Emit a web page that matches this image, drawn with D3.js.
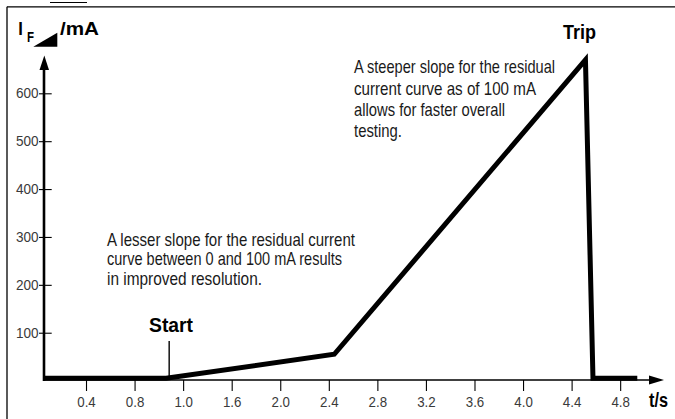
<!DOCTYPE html>
<html>
<head>
<meta charset="utf-8">
<script src="https://cdn.jsdelivr.net/npm/d3@7"></script>
<style>
  html, body { margin: 0; padding: 0; background: #fff; }
  svg { display: block; }
  text { font-family: "Liberation Sans Narrow", "Liberation Sans", Arial, sans-serif; }
</style>
</head>
<body>
<svg id="chart" width="675" height="419"></svg>
<script>
// ---------- data ----------
const xTickValues = [0.4, 0.8, 1.2, 1.6, 2.0, 2.4, 2.8, 3.2, 3.6, 4.0, 4.4, 4.8];
const xTickLabels = ["0.4", "0.8", "1.0", "1.6", "2.0", "2.4", "2.8", "3.2", "3.6", "4.0", "4.4", "4.8"];
const yTickValues = [100, 200, 300, 400, 500, 600];
const curveTime = [0.048, 1.06, 2.445, 4.514, 4.576, 4.941];   // t / s
const curveCurrent = [5, 5, 55, 670, 5, 5];                    // I_F / mA
const startTime = 1.085;
const noteLesser = ["A lesser slope for the residual current",
                    "curve between 0 and 100 mA results",
                    "in improved resolution."];
const noteSteeper = ["A steeper slope for the residual",
                     "current curve as of 100 mA",
                     "allows for faster overall",
                     "testing."];

// ---------- setup ----------
const svg = d3.select("#chart");
const x = d3.scaleLinear().domain([0, 4.8]).range([37.45, 37.45 + 4.8 * 121.4]);
const y = d3.scaleLinear().domain([0, 600]).range([380.6, 93.3]);
const axisX0 = 44;

// frame (cropped page)
svg.append("line").attr("x1", 7).attr("y1", 6.8).attr("x2", 675).attr("y2", 6.8)
  .attr("stroke", "#000").attr("stroke-width", 1.3);
svg.append("line").attr("x1", 7).attr("y1", 6.8).attr("x2", 7).attr("y2", 419)
  .attr("stroke", "#000").attr("stroke-width", 1.3);
svg.append("line").attr("x1", 50).attr("x2", 87).attr("y1", 2.5).attr("y2", 2.5)
  .attr("stroke", "#000").attr("stroke-width", 1);

// ---------- x axis ----------
const gx = svg.append("g").attr("transform", "translate(0,380)");
gx.call(d3.axisBottom(x).tickValues(xTickValues)
  .tickFormat((d, i) => xTickLabels[i]).tickSize(11).tickPadding(5));
gx.select(".domain").remove();
gx.selectAll(".tick line").attr("stroke", "#000").attr("stroke-width", 1.1);
gx.selectAll(".tick text")
  .attr("font-family", "'Liberation Sans', Arial, sans-serif")
  .attr("font-size", 15).attr("fill", "#3a3a3a")
  .attr("textLength", 18.5).attr("lengthAdjust", "spacingAndGlyphs");
svg.append("line").attr("x1", axisX0).attr("x2", 650).attr("y1", 380).attr("y2", 380)
  .attr("stroke", "#000").attr("stroke-width", 1.7);
svg.append("path").attr("d", "M664,380 L649,375.5 L649,384.5 Z").attr("fill", "#000");

// ---------- y axis ----------
const gy = svg.append("g").attr("transform", `translate(${axisX0},0)`);
gy.call(d3.axisLeft(y).tickValues(yTickValues).tickSize(5).tickPadding(0.5));
gy.select(".domain").remove();
gy.selectAll(".tick line").attr("x1", 7.7).attr("stroke", "#000").attr("stroke-width", 1.1);
gy.selectAll(".tick text")
  .attr("font-family", "'Liberation Sans', Arial, sans-serif")
  .attr("font-size", 14).attr("fill", "#3a3a3a")
  .attr("textLength", 22.6).attr("lengthAdjust", "spacingAndGlyphs");
svg.append("line").attr("x1", axisX0).attr("x2", axisX0).attr("y1", y(0) + 0.5).attr("y2", 68)
  .attr("stroke", "#000").attr("stroke-width", 2.6);
svg.append("path").attr("d", `M${axisX0 + 0.3},55.5 L${axisX0 - 4.5},70 L${axisX0 + 5},70 Z`).attr("fill", "#000");

// y axis title: I_F (ramp) /mA
svg.append("text").attr("x", 18.3).attr("y", 35).attr("font-weight", "bold")
  .attr("font-size", 18).attr("textLength", 4.6).attr("lengthAdjust", "spacingAndGlyphs").text("I");
svg.append("text").attr("x", 27).attr("y", 42).attr("font-weight", "bold")
  .attr("font-size", 14).attr("textLength", 7).attr("lengthAdjust", "spacingAndGlyphs").text("F");
svg.append("path").attr("d", "M33.3,46.7 L57.3,46.7 L57.3,32.7 Z").attr("fill", "#000");
svg.append("text").attr("x", 60).attr("y", 35).attr("font-weight", "bold")
  .attr("font-size", 18).attr("textLength", 39).attr("lengthAdjust", "spacingAndGlyphs").text("/mA");

// x axis title
svg.append("text").attr("x", 649).attr("y", 407.3).attr("font-weight", "bold")
  .attr("font-size", 20).attr("textLength", 19).attr("lengthAdjust", "spacingAndGlyphs").text("t/s");

// ---------- curve ----------
const pts = curveTime.map((t, i) => [t, curveCurrent[i]]);
const line = d3.line().x(d => x(d[0])).y(d => y(d[1]));
svg.append("path").datum(pts).attr("d", line)
  .attr("fill", "none").attr("stroke", "#000").attr("stroke-width", 5)
  .attr("stroke-linejoin", "miter").attr("stroke-miterlimit", 10);

// Start marker
svg.append("line").attr("x1", x(startTime)).attr("x2", x(startTime))
  .attr("y1", 341).attr("y2", 378).attr("stroke", "#000").attr("stroke-width", 1.4);
svg.append("text").attr("x", 149).attr("y", 332).attr("font-weight", "bold")
  .attr("font-size", 20.5).attr("textLength", 44).attr("lengthAdjust", "spacingAndGlyphs").text("Start");
svg.append("text").attr("x", 563).attr("y", 38.5).attr("font-weight", "bold")
  .attr("font-size", 20.5).attr("textLength", 33).attr("lengthAdjust", "spacingAndGlyphs").text("Trip");

// ---------- notes ----------
const w1 = [248, 235, 155];
const b1 = [245.8, 265.4, 285];
svg.append("g").selectAll("text").data(noteLesser).join("text")
  .attr("x", 107).attr("y", (d, i) => b1[i])
  .attr("font-size", 18.5).attr("fill", "#1a1a1a")
  .attr("textLength", (d, i) => w1[i]).attr("lengthAdjust", "spacingAndGlyphs")
  .text(d => d);
const w2 = [201, 182, 151, 48];
const b2 = [73.3, 94.6, 115.7, 136.7];
svg.append("g").selectAll("text").data(noteSteeper).join("text")
  .attr("x", 354).attr("y", (d, i) => b2[i])
  .attr("font-size", 18.5).attr("fill", "#1a1a1a")
  .attr("textLength", (d, i) => w2[i]).attr("lengthAdjust", "spacingAndGlyphs")
  .text(d => d);
</script>
</body>
</html>
